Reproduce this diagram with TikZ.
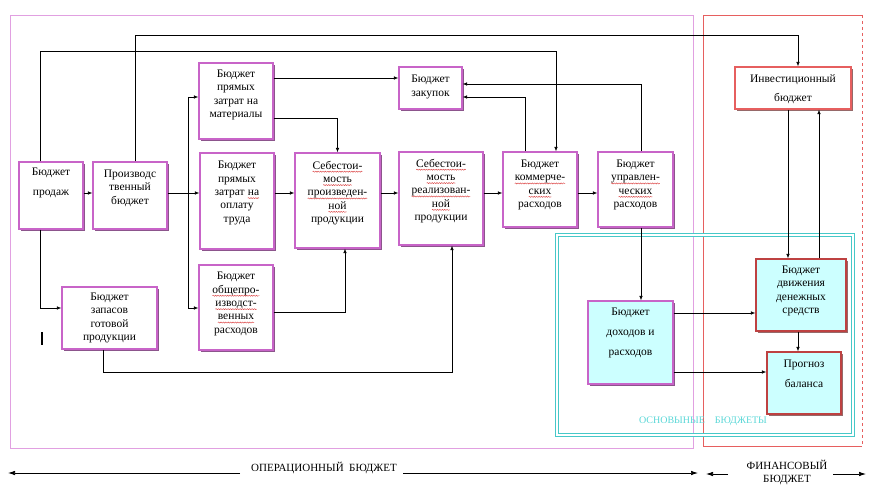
\documentclass[tikz,border=0pt]{standalone}
\usepackage{fontspec}
\setmainfont{Liberation Serif}
\usetikzlibrary{arrows.meta,shadows,decorations.pathmorphing}
\definecolor{boxline}{RGB}{200,100,200}
\definecolor{boxshadow}{RGB}{140,85,140}
\definecolor{opframe}{RGB}{225,160,225}
\definecolor{finframe}{RGB}{230,95,95}
\definecolor{cyanframe}{RGB}{70,200,200}
\definecolor{cyanfill}{RGB}{204,255,255}
\definecolor{redline}{RGB}{190,65,65}
\definecolor{redshadow}{RGB}{150,105,105}
\definecolor{cyantext}{RGB}{90,215,215}
\definecolor{squigcol}{RGB}{220,70,70}
\newcommand\sq[1]{\tikz[baseline=(sqw.base)]{\node[inner sep=0pt, outer sep=0pt] (sqw) {#1};
  \draw[squigcol, line width=0.45pt, decorate, decoration={snake, amplitude=0.55pt, segment length=2.4pt}]
   ([yshift=-2.6pt]sqw.base west) -- ([yshift=-2.6pt]sqw.base east);}}
\begin{document}
\begin{tikzpicture}[x=1pt,y=-1pt,
  box/.style={draw=boxline, line width=1.1pt, fill=white, inner sep=0pt,
    drop shadow={shadow xshift=2.2pt, shadow yshift=-2.2pt, fill=boxshadow, opacity=1}},
  cbox/.style={box, fill=cyanfill},
  rbox/.style={box, draw=redline, fill=cyanfill,
    drop shadow={shadow xshift=2.2pt, shadow yshift=-2.2pt, fill=redshadow, opacity=1}},
  ibox/.style={box, draw=finframe,
    drop shadow={shadow xshift=2.2pt, shadow yshift=-2.2pt, fill=redshadow, opacity=1}},
  txt/.style={inner sep=0pt, align=center, font=\fontsize{11.5}{13.4}\selectfont},
  stxt/.style={inner sep=0pt, align=center, font=\fontsize{11.5}{20}\selectfont},
  ln/.style={draw=black, line width=0.7pt},
  conn/.style={ln, -{Latex[length=4.5pt,width=3.5pt]}},
  bigarr/.style={draw=black, line width=0.7pt, -{Latex[length=7pt,width=4.5pt]}},
  captxt/.style={inner sep=0pt, align=center, font=\fontsize{11}{13}\selectfont}
]
\useasboundingbox (0,0) rectangle (876,487);
% frames
\draw[opframe, line width=0.9pt] (10,15) rectangle (693,448);
\draw[finframe, line width=0.8pt] (862,15) -- (703,15) -- (703,446) -- (862,446);
\draw[finframe, line width=0.8pt, dashed] (862,15) -- (862,446);
\draw[cyanframe, line width=0.8pt, double=white, double distance=2.2pt] (557,235) rectangle (853,435);
\node[inner sep=0pt, text=cyantext, font=\fontsize{10}{12}\selectfont] (mainlbl) at (703,421) {ОСНОВЫНЫЕ\quad БЮДЖЕТЫ};

% waypoints
\coordinate (row) at (0,193);
\coordinate (b1) at (188,97);
\coordinate (b2) at (188,308);
\coordinate (m1) at (0,78);
\coordinate (m2) at (0,118);
\coordinate (o1) at (345,312);
\coordinate (s1) at (103,372);
\coordinate (s2) at (452,372);
\coordinate (c1) at (40,308);
\coordinate (t1) at (40,51);
\coordinate (t2) at (556,51);
\coordinate (t3) at (135,35);
\coordinate (t4) at (798,35);
\coordinate (p1) at (525,97);
\coordinate (p2) at (641,84);
\coordinate (f1) at (788,0);
\coordinate (f2) at (819,0);
\coordinate (f3) at (798,0);
\coordinate (g1) at (0,313);
\coordinate (g2) at (0,372);

% boxes
\node[box, minimum width=64pt, minimum height=67pt] (sales) at (51,195.5) {};
\node[box, minimum width=74pt, minimum height=67pt] (prod) at (130,195.5) {};
\node[box, minimum width=74pt, minimum height=76pt] (mat) at (236,101) {};
\node[box, minimum width=74pt, minimum height=96pt] (lab) at (237,201) {};
\node[box, minimum width=74pt, minimum height=85pt] (ovh) at (236,307.5) {};
\node[box, minimum width=95pt, minimum height=62pt] (stock) at (109.5,318) {};
\node[box, minimum width=85pt, minimum height=95pt] (cpp) at (337.5,200.5) {};
\node[box, minimum width=63pt, minimum height=42pt] (purch) at (430.5,88) {};
\node[box, minimum width=84pt, minimum height=93pt] (crp) at (441,198.5) {};
\node[box, minimum width=74pt, minimum height=75pt] (comm) at (540,189.5) {};
\node[box, minimum width=75pt, minimum height=75pt] (adm) at (635.5,189.5) {};
\node[ibox, minimum width=116pt, minimum height=42pt] (invest) at (793,88) {};
\node[rbox, minimum width=90pt, minimum height=72pt] (cash) at (801,295) {};
\node[rbox, minimum width=74pt, minimum height=62pt] (bal) at (804,383) {};
\node[cbox, minimum width=85pt, minimum height=83pt] (pl) at (630.5,342.5) {};

% texts
\node[stxt] (salesT) at (51,183) {Бюджет\\продаж};
\node[txt] (prodT) at (130,188) {Производс\\твенный\\бюджет};
\node[txt] (matT) at (236,95) {Бюджет\\прямых\\затрат на\\материалы};
\node[txt] (labT) at (237,193) {Бюджет\\прямых\\затрат \sq{на}\\оплату\\труда};
\node[txt] (ovhT) at (236,304) {Бюджет\\\sq{общепро-}\\\sq{изводст-}\\\sq{венных}\\расходов};
\node[txt] (stockT) at (109.5,318) {Бюджет\\запасов\\готовой\\продукции};
\node[txt] (cppT) at (337.5,193) {\sq{Себестои-}\\\sq{мость}\\\sq{произведен-}\\\sq{ной}\\продукции};
\node[txt] (purchT) at (430.5,87) {Бюджет\\закупок};
\node[txt] (crpT) at (441,191) {\sq{Себестои-}\\\sq{мость}\\\sq{реализован-}\\\sq{ной}\\продукции};
\node[txt] (commT) at (540,185) {Бюджет\\\sq{коммерче-}\\\sq{ских}\\расходов};
\node[txt] (admT) at (635.5,185) {Бюджет\\\sq{управлен-}\\\sq{ческих}\\расходов};
\node[stxt, font=\fontsize{11.5}{19}\selectfont] (investT) at (793,89.5) {Инвестиционный\\бюджет};
\node[txt] (cashT) at (801,291) {Бюджет\\движения\\денежных\\средств};
\node[stxt] (balT) at (804,373.5) {Прогноз\\баланса};
\node[stxt] (plT) at (630.5,333) {Бюджет\\доходов и\\расходов};

% connectors
\draw[conn] (sales.east |- row) -- (prod.west |- row);
\draw[conn] (prod.east |- row) -- (lab.west |- row);
\draw[ln] (b1) -- (b2);
\draw[conn] (b1) -- (mat.west |- b1);
\draw[conn] (b2) -- (ovh.west |- b2);
\draw[conn] (lab.east |- row) -- (cpp.west |- row);
\draw[conn] (cpp.east |- row) -- (crp.west |- row);
\draw[conn] (crp.east |- row) -- (comm.west |- row);
\draw[conn] (comm.east |- row) -- (adm.west |- row);
\draw[conn] (mat.east |- m1) -- (purch.west |- m1);
\draw[conn] (mat.east |- m2) -| (cpp.north);
\draw[conn] (ovh.east |- o1) -| (cpp.south -| o1);
\draw[conn] (stock.south -| s1) |- (s2) -- (crp.south -| s2);
\draw[conn] (sales.south -| c1) |- (stock.west |- c1);
\draw[conn] (sales.north -| t1) |- (t2) -- (comm.north -| t2);
\draw[conn] (prod.north -| t3) |- (t4) -- (invest.north -| t4);
\draw[conn] (comm.north -| p1) |- (purch.east |- p1);
\draw[conn] (adm.north -| p2) |- (purch.east |- p2);
\draw[conn] (adm.south -| p2) -- (pl.north -| p2);
\draw[conn] (invest.south -| f1) -- (cash.north -| f1);
\draw[conn] (cash.north -| f2) -- (invest.south -| f2);
\draw[conn] (pl.east |- g1) -- (cash.west |- g1);
\draw[conn] (pl.east |- g2) -- (bal.west |- g2);
\draw[conn] (cash.south -| f3) -- (bal.north -| f3);

% stray mark
\draw[line width=1.6pt] (42,332) -- (42,345);

% bottom captions
\node[captxt] (opT) at (324,468) {ОПЕРАЦИОННЫЙ\ \ БЮДЖЕТ};
\node[captxt] (finT) at (787,473) {ФИНАНСОВЫЙ\\БЮДЖЕТ};
\coordinate (oa) at (240,473);
\coordinate (ob) at (8,473);
\coordinate (oc) at (403,473);
\coordinate (od) at (698,473);
\coordinate (fa) at (728,474);
\coordinate (fb) at (706,474);
\coordinate (fc) at (833,474);
\coordinate (fd) at (866,474);
\draw[bigarr] (oa) -- (ob);
\draw[bigarr] (oc) -- (od);
\draw[bigarr] (fa) -- (fb);
\draw[bigarr] (fc) -- (fd);
\end{tikzpicture}
\end{document}
